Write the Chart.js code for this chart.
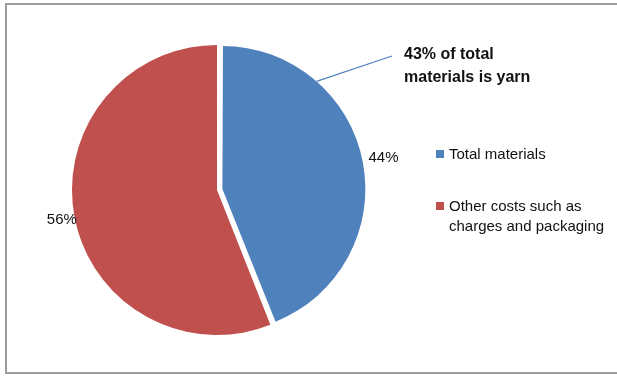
<!DOCTYPE html>
<html>
<head>
<meta charset="utf-8">
<script src="https://cdn.jsdelivr.net/npm/chart.js@4"></script>
<style>
  html, body { margin: 0; padding: 0; background: #fff; }
  #wrap { position: relative; width: 617px; height: 377px; overflow: hidden; }
  #frame { position: absolute; left: 5px; top: 3px; width: 700px; height: 371px; border: 2px solid #9c9c9c; box-sizing: border-box; }
  #c { position: absolute; left: 0; top: 0; }
  .leg { position: absolute; font-family: "Liberation Sans", Arial, sans-serif; font-size: 15px; color: #111; line-height: 20px; }
  .sw { position: absolute; width: 8px; height: 8px; }
  #note { position: absolute; left: 404px; top: 42px; font-family: "Liberation Sans", Arial, sans-serif; font-weight: bold; font-size: 16px; line-height: 23px; color: #111; }
</style>
</head>
<body>
<div id="wrap">
  <div id="frame"></div>
  <canvas id="c" width="617" height="377"></canvas>
  <div id="legend"></div>
  <div id="note">43% of total<br>materials is yarn</div>
</div>
<script>
const categories = ["Total materials", ["Other costs such as", "charges and packaging"]];
const values = [44, 56];
const pctLabels = ["44%", "56%"];
const colors = ["#4F81BD", "#C0504D"];
const offsets = [22, 0];

// HTML legend built from the arrays
const legendTops = [149, 201];
const legend = document.getElementById('legend');
categories.forEach((cat, i) => {
  const sw = document.createElement('div');
  sw.className = 'sw';
  sw.style.left = '436px';
  sw.style.top = (legendTops[i] + 1) + 'px';
  sw.style.background = colors[i];
  legend.appendChild(sw);
  const t = document.createElement('div');
  t.className = 'leg';
  t.style.left = '449px';
  t.style.top = (legendTops[i] - 5) + 'px';
  t.innerHTML = (Array.isArray(cat) ? cat : [cat]).join('<br>');
  legend.appendChild(t);
});

// keep exploded slice the same radius as the others (pure translation)
const explodeFix = {
  id: 'explodeFix',
  afterDatasetUpdate(chart, args) {
    const meta = chart.getDatasetMeta(args.index);
    meta.data.forEach(arc => {
      const off = (arc.options.offset || 0) / 4;
      if (off) arc.outerRadius -= off;
    });
  }
};

const labelGap = [19, 13];
const labelPlugin = {
  id: 'pieLabels',
  afterDatasetsDraw(chart) {
    const ctx = chart.ctx;
    const meta = chart.getDatasetMeta(0);
    const R = meta.data[1].outerRadius;
    ctx.save();
    ctx.font = '15px "Liberation Sans", Arial, sans-serif';
    ctx.fillStyle = '#111';
    ctx.textAlign = 'center';
    ctx.textBaseline = 'middle';
    meta.data.forEach((arc, i) => {
      const mid = (arc.startAngle + arc.endAngle) / 2;
      const off = (arc.options.offset || 0) / 4;
      const r = R + off + labelGap[i];
      ctx.fillText(pctLabels[i], arc.x + Math.cos(mid) * r, arc.y + Math.sin(mid) * r);
    });
    // annotation leader line from blue slice edge to note text
    const a = meta.data[0];
    const off = (a.options.offset || 0) / 4;
    const midA = (a.startAngle + a.endAngle) / 2;
    const ang = a.startAngle + (a.endAngle - a.startAngle) * 0.26;
    const sx = a.x + Math.cos(midA) * off + Math.cos(ang) * (R - 2);
    const sy = a.y + Math.sin(midA) * off + Math.sin(ang) * (R - 2);
    ctx.strokeStyle = '#4F81BD';
    ctx.lineWidth = 1.2;
    ctx.beginPath();
    ctx.moveTo(sx, sy);
    ctx.lineTo(392, 56);
    ctx.stroke();
    ctx.restore();
  }
};

new Chart(document.getElementById('c'), {
  type: 'pie',
  data: {
    labels: categories.map(c => Array.isArray(c) ? c.join(' ') : c),
    datasets: [{
      data: values,
      backgroundColor: colors,
      borderWidth: 0,
      offset: offsets
    }]
  },
  options: {
    responsive: false,
    animation: false,
    layout: { padding: { left: 61, top: 34, right: 244, bottom: 31 } },
    plugins: { legend: { display: false }, tooltip: { enabled: false } }
  },
  plugins: [explodeFix, labelPlugin]
});
</script>
</body>
</html>
